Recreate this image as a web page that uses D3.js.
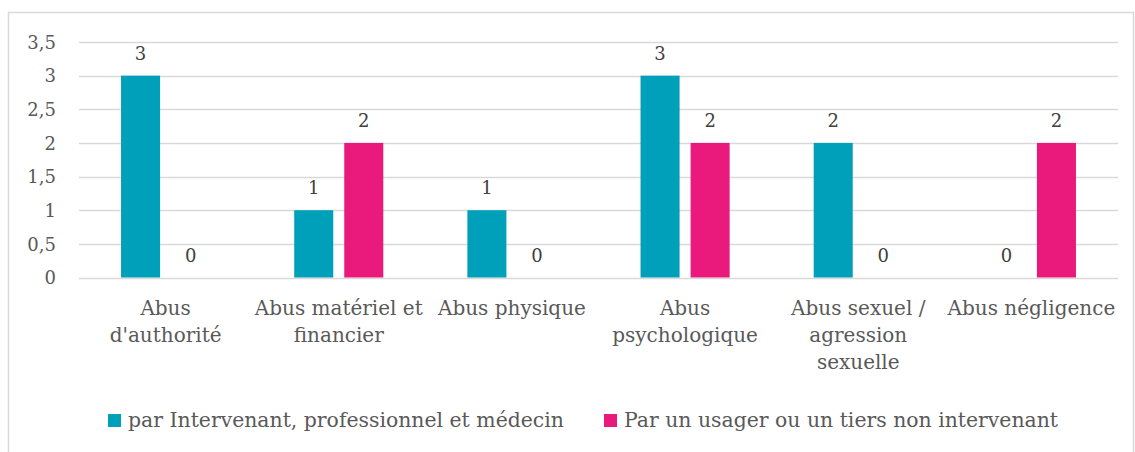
<!DOCTYPE html>
<html>
<head>
<meta charset="utf-8">
<script src="https://cdn.jsdelivr.net/npm/d3@7/dist/d3.min.js"></script>
<style>
  html, body { margin: 0; padding: 0; background: #fff; }
  svg { display: block; }
</style>
</head>
<body>
<svg id="chart" width="1135" height="452"></svg>
<script>
const categories = [
  "Abus\nd'authorité",
  "Abus matériel et\nfinancier",
  "Abus physique",
  "Abus\npsychologique",
  "Abus sexuel /\nagression\nsexuelle",
  "Abus négligence"
];
const seriesNames = [
  "par Intervenant, professionnel et médecin",
  "Par un usager ou un tiers non intervenant"
];
const seriesIntervenant = [3, 1, 1, 3, 2, 0];
const seriesUsager = [0, 2, 0, 2, 0, 2];
const yTicks = [0, 0.5, 1, 1.5, 2, 2.5, 3, 3.5];
const colors = ["#00A0BA", "#EA1A7D"];

const svg = d3.select("#chart");
const W = 1135, H = 452;
const margin = { left: 79, right: 17, top: 42, bottom: 174 };
const plotW = W - margin.left - margin.right;
const y0 = 277.5, yTop = 42;

const textColor = "#595959";
const serif = "DejaVu Serif, serif";

// chart frame
svg.append("rect")
  .attr("x", 8.5).attr("y", 12.5)
  .attr("width", 1125).attr("height", 470)
  .attr("fill", "none").attr("stroke", "#D9D9D9").attr("stroke-width", 1.5);

const x0 = d3.scaleBand().domain(categories).range([margin.left, margin.left + plotW]).paddingInner(0).paddingOuter(0);
const x1 = d3.scaleBand().domain([0, 1]).range([0, x0.bandwidth()]).paddingInner(0.22).paddingOuter(0.84);
const y = d3.scaleLinear().domain([0, 3.5]).range([y0, yTop]);

// gridlines
svg.append("g").selectAll("line").data(yTicks).join("line")
  .attr("x1", margin.left).attr("x2", margin.left + plotW)
  .attr("y1", d => Math.round(y(d)) + 0.5).attr("y2", d => Math.round(y(d)) + 0.5)
  .attr("stroke", "#D9D9D9").attr("stroke-width", 1.5);

// y axis labels
const yAxis = d3.axisLeft(y).tickValues(yTicks).tickSize(0).tickPadding(0)
  .tickFormat(d => String(d).replace(".", ","));
const ya = svg.append("g").attr("transform", `translate(56,0)`).call(yAxis);
ya.select(".domain").remove();
ya.selectAll("text").attr("fill", textColor).attr("font-family", serif).attr("font-size", 18).attr("dy", "0.35em");

// bars
const data = categories.map((c, i) => ({ cat: c, vals: [seriesIntervenant[i], seriesUsager[i]] }));
const groups = svg.append("g").selectAll("g").data(data).join("g")
  .attr("transform", d => `translate(${x0(d.cat)},0)`);

groups.selectAll("rect").data(d => d.vals.map((v, k) => ({ k, v }))).join("rect")
  .attr("x", d => x1(d.k)).attr("width", x1.bandwidth())
  .attr("y", d => y(d.v)).attr("height", d => y0 - y(d.v))
  .attr("fill", d => colors[d.k]);

groups.selectAll("text.val").data(d => d.vals.map((v, k) => ({ k, v }))).join("text")
  .attr("class", "val")
  .attr("x", d => x1(d.k) + x1.bandwidth() / 2)
  .attr("y", d => y(d.v) - 16)
  .attr("text-anchor", "middle")
  .attr("fill", "#404040")
  .attr("font-family", serif).attr("font-size", 18)
  .text(d => String(d.v));

// category labels
const cl = svg.append("g").selectAll("text").data(categories).join("text")
  .attr("x", d => x0(d) + x0.bandwidth() / 2)
  .attr("y", 315)
  .attr("text-anchor", "middle")
  .attr("fill", textColor)
  .attr("font-family", serif).attr("font-size", 20);
cl.each(function (d) {
  const t = d3.select(this);
  d.split("\n").forEach((line, i) => {
    t.append("tspan").attr("x", x0(d) + x0.bandwidth() / 2).attr("dy", i === 0 ? 0 : 27).text(line);
  });
});

// legend
const legendX = [108, 604];
const lg = svg.append("g").selectAll("g").data(seriesNames).join("g")
  .attr("transform", (d, i) => `translate(${legendX[i]},414)`);
lg.append("rect").attr("width", 13).attr("height", 13).attr("fill", (d, i) => colors[i]);
lg.append("text").attr("x", 20).attr("y", 13)
  .attr("fill", textColor)
  .attr("font-family", serif).attr("font-size", 20.4)
  .text(d => d);
</script>
</body>
</html>
